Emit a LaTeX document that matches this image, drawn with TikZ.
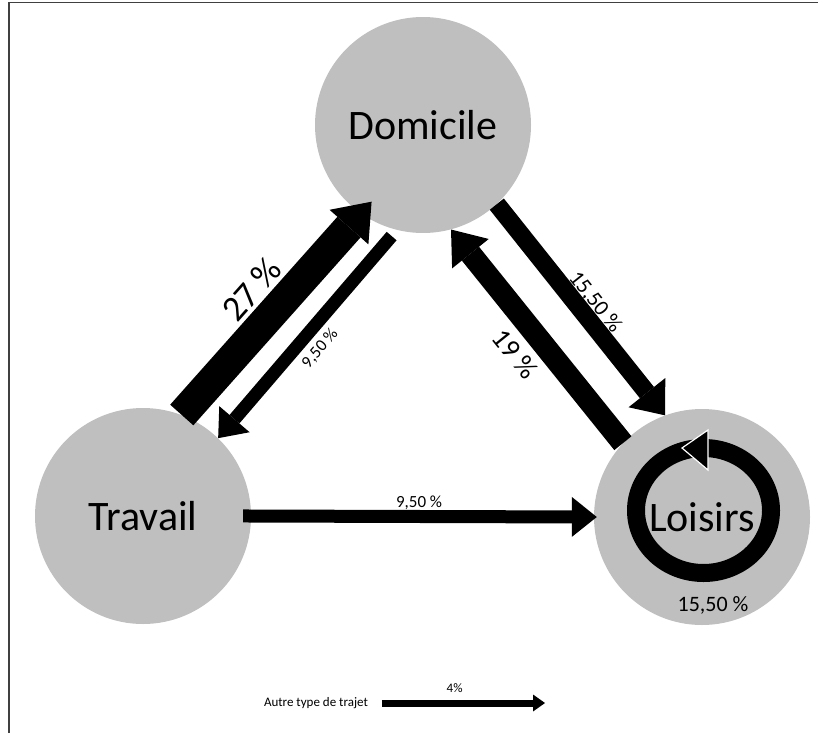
\documentclass[tikz,border=0pt]{standalone}
\usepackage{fontspec}
\setmainfont{Carlito}
\usetikzlibrary{arrows.meta,calc}
\definecolor{placegrey}{HTML}{BFBFBF}
\definecolor{framegrey}{HTML}{404040}
\newcommand{\fP}{\fontsize{42}{50}\selectfont}
\newcommand{\fL}{\fontsize{36}{43}\selectfont}
\newcommand{\fM}{\fontsize{28}{34}\selectfont}
\newcommand{\fR}{\fontsize{22}{26}\selectfont}
\newcommand{\fS}{\fontsize{17}{20}\selectfont}
\newcommand{\fT}{\fontsize{13}{16}\selectfont}

\begin{document}
\begin{tikzpicture}[x=1pt,y=-1pt,
    place/.style={circle,fill=placegrey,minimum size=216pt,inner sep=0pt,font=\fP},
    lbl/.style={inner sep=0pt,outer sep=0pt},
    flow/.style={draw=black,line cap=butt},
    wA/.style={flow,line width=31pt,-{Triangle[length=34pt,width=52pt,line width=0pt]}},
    wB/.style={flow,line width=22pt,-{Triangle[length=31pt,width=47pt,line width=0pt]}},
    wC/.style={flow,line width=18pt,-{Triangle[length=29pt,width=47pt,line width=0pt]}},
    wD/.style={flow,line width=13pt,-{Triangle[length=25pt,width=40pt,line width=0pt]}},
    wE/.style={flow,line width=7pt,-{Triangle[length=12pt,width=17pt,line width=0pt]}}]
  \path[use as bounding box] (0,0) rectangle (818,733);
  \draw[framegrey,line width=1.3pt] (9,733) -- (9,2.3) -- (818,2.3);

  % places
  \node[place] (dom) at (423,125) {Domicile};
  \node[place] (trav) at (143,516) {Travail};
  \node[place] (lois) at (702,517) {Loisirs};

  % flows between the places
  \draw[wA,shorten >=-16pt] (trav.69) -- (dom.235)
    node[lbl,sloped,pos=0.52,above=19pt,font=\fL] {27 \%};
  \draw[wD,shorten <=8pt] (dom.256) -- (trav.46)
    node[lbl,sloped,pos=0.51,below=12pt,font=\fS] {9,50 \%};
  \draw[wB] (lois.137) -- (dom.285)
    node[lbl,sloped,pos=0.5,below=18pt,font=\fM] {19 \%};
  \draw[wC] (dom.313) -- (lois.110)
    node[lbl,sloped,pos=0.51,above=7pt,font=\fR] {15,50 \%};
  \draw[wD,shorten <=-8pt,shorten >=-3pt] (trav.east) -- (lois.west)
    node[lbl,pos=0.49,above=7pt,font=\fS] {9,50 \%};

  % loop on Loisirs
  \draw[black,line width=18pt] ($(lois.center)+(1.5,-6.5)$) ellipse [x radius=67.5,y radius=62.5];
  \filldraw[fill=black,draw=white,line width=1.2pt] (682,448) -- (708,430) -- (708,470) -- cycle;
  \node[lbl,font=\fR] (loopval) at (713,605) {15,50 \%};

  % legend
  \node[lbl,font=\fT,anchor=west] (legtxt) at (264,703) {Autre type de trajet};
  \coordinate (legend) at (545,703);
  \draw[wE,shorten <=14pt] (legtxt.east) -- (legend)
    node[lbl,pos=0.49,above=10pt,font=\fT] {4\%};
\end{tikzpicture}
\end{document}
